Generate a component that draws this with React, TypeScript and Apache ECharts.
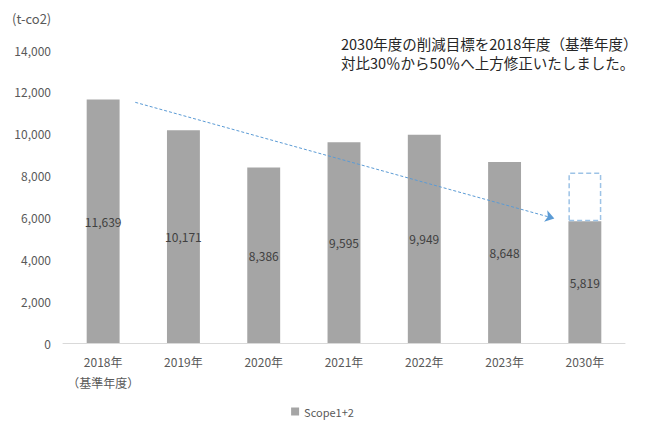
import React, { useEffect, useRef } from "react";
import * as echarts from "echarts";

const categories = ["2018年\n（基準年度）", "2019年", "2020年", "2021年", "2022年", "2023年", "2030年"];
const scopeValues = [11639, 10171, 8386, 9595, 9949, 8648, 5819];
// 30% reduction target (70% of base) shown as dashed box above the 50% target
const oldTargetExtra = ["-", "-", "-", "-", "-", "-", 2328];
const yTicks = { min: 0, max: 14000, interval: 2000 };
// arrow annotation: [category position, value]
const arrowStart = [0.4, 11500];
const arrowEnd = [5.62, 5950];

const FONT = "'Noto Sans CJK JP', 'Noto Sans', sans-serif";

export default function App() {
  const ref = useRef<HTMLDivElement>(null);
  useEffect(() => {
    if (!ref.current) return;
    const chart = echarts.init(ref.current, null, { renderer: "svg" });
    chart.setOption({
      animation: false,
      textStyle: { fontFamily: FONT },
      grid: { left: 63, right: 20, top: 50, bottom: 86, containLabel: false },
      legend: {
        data: ["Scope1+2"],
        top: 401,
        left: "center",
        icon: "rect",
        itemWidth: 8,
        itemHeight: 8,
        itemGap: 4,
        textStyle: { color: "#595959", fontSize: 11, fontFamily: FONT },
      },
      graphic: [
        {
          type: "text",
          left: 12,
          top: 12,
          style: { text: "(t-co2)", fill: "#595959", fontSize: 13, fontFamily: FONT },
        },
        {
          type: "text",
          left: 341,
          top: 34,
          style: {
            text: "2030年度の削減目標を2018年度（基準年度）\n対比30％から50％へ上方修正いたしました。",
            fill: "#262626",
            fontSize: 14.5,
            lineHeight: 19,
            fontFamily: FONT,
          },
        },
      ],
      xAxis: {
        type: "category",
        data: categories,
        axisLine: { lineStyle: { color: "#d9d9d9" } },
        axisTick: { show: false },
        axisLabel: { interval: 0, color: "#595959", fontSize: 12, lineHeight: 21, margin: 8, fontFamily: FONT },
      },
      yAxis: {
        type: "value",
        min: yTicks.min,
        max: yTicks.max,
        interval: yTicks.interval,
        splitLine: { show: false },
        axisLine: { show: false },
        axisTick: { show: false },
        axisLabel: {
          color: "#595959",
          fontSize: 12,
          margin: 12,
          fontFamily: FONT,
          formatter: (v: number) => v.toLocaleString("en-US"),
        },
      },
      series: [
        {
          name: "Scope1+2",
          type: "bar",
          stack: "total",
          data: scopeValues,
          barWidth: "41%",
          itemStyle: { color: "#a5a5a5" },
          label: {
            show: true,
            position: "inside",
            color: "#404040",
            fontSize: 12,
            fontFamily: FONT,
            formatter: (p: any) => Number(p.value).toLocaleString("en-US"),
          },
        },
        {
          name: "target30",
          type: "bar",
          stack: "total",
          data: oldTargetExtra,
          barWidth: "41%",
          itemStyle: {
            color: "rgba(0,0,0,0)",
            borderColor: "#9dc3e6",
            borderWidth: 1.5,
            borderType: [5, 3],
          },
          silent: true,
        },
      ],
    });

    const px = (pos: number[]) => {
      const i = Math.floor(pos[0]);
      const f = pos[0] - i;
      const a = chart.convertToPixel({ xAxisIndex: 0 }, categories[i]) as number;
      const b = chart.convertToPixel({ xAxisIndex: 0 }, categories[Math.min(i + 1, categories.length - 1)]) as number;
      const y = chart.convertToPixel({ yAxisIndex: 0 }, pos[1]) as number;
      return { x: a + (b - a) * f, y };
    };
    const s = px(arrowStart);
    const e = px(arrowEnd);
    chart.setOption({
      series: [
        {
          name: "Scope1+2",
          markLine: {
            silent: true,
            symbol: ["none", "arrow"],
            symbolSize: 9,
            label: { show: false },
            lineStyle: { color: "#5b9bd5", type: [3, 2], width: 1 },
            data: [[{ x: s.x, y: s.y }, { x: e.x, y: e.y }]],
          },
        },
      ],
    });
    return () => chart.dispose();
  }, []);
  return (
    <div
      ref={ref}
      style={{ position: "absolute", left: 0, top: 0, width: 645, height: 429, background: "#fff" }}
    />
  );
}
